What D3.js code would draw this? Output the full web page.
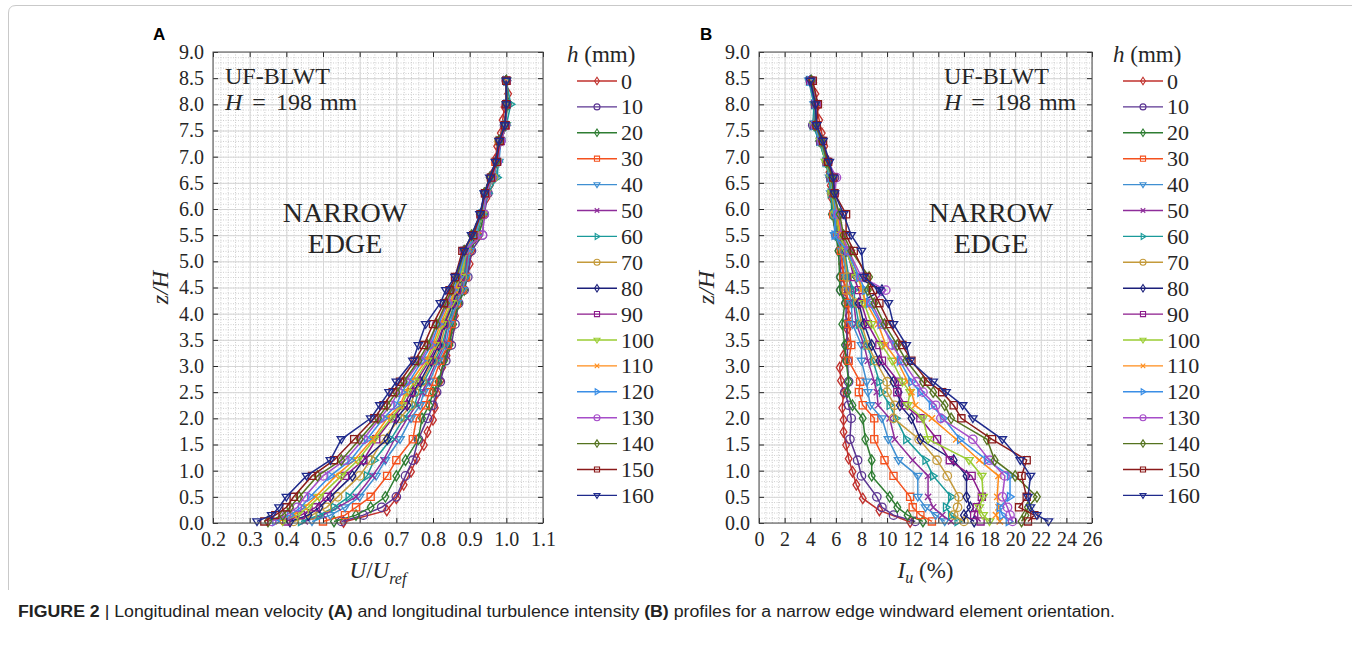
<!DOCTYPE html>
<html>
<head>
<meta charset="utf-8">
<script src="https://cdn.jsdelivr.net/npm/d3@7"></script>
<style>
  body { margin: 0; background: #fff; }
  svg { display: block; }
</style>
</head>
<body>
<div id="figure"></div>
<script>
// Roughness element heights h (mm), one profile each
var heights = [0, 10, 20, 30, 40, 50, 60, 70, 80, 90, 100, 110, 120, 130, 140, 150, 160];

var colors = ['#c0302c', '#5b3592', '#2e7d32', '#f4511e', '#3f8fd2', '#8e2d9a',
              '#1a9a9a', '#c49a3a', '#1b1f7a', '#8b1a8b', '#9acd32', '#ff8c1a',
              '#3a8ee6', '#a64dc9', '#55731f', '#8b1a1a', '#1f2a8c'];

var markers = ['diamond', 'circle', 'diamond', 'square', 'triDown', 'cross', 'triRight',
               'circle', 'diamond', 'square', 'triDown', 'cross', 'triRight',
               'circle', 'diamond', 'square', 'triDown'];

// z/H measurement levels: h = 0 profile has its own, finer set
var zLevels0 = [0.02, 0.24, 0.47, 0.73, 0.98, 1.23, 1.49, 1.74, 1.97, 2.2, 2.48, 2.72, 2.97, 3.2,
                3.45, 3.7, 3.96, 4.2, 4.45, 4.7, 4.95, 5.2, 5.45, 5.7, 5.95, 6.2, 6.45, 6.7,
                6.95, 7.2, 7.45, 7.7, 7.95, 8.2];
var zLevels = [0.03, 0.15, 0.3, 0.5, 0.9, 1.2, 1.6, 2.0, 2.25, 2.5, 2.7, 3.1, 3.4, 3.8, 4.2,
               4.45, 4.7, 5.2, 5.5, 5.9, 6.3, 6.6, 6.9, 7.3, 7.6, 8.0, 8.45];

// U/Uref, panel A
var velocity = [
  [0.556, 0.674, 0.70, 0.72, 0.74, 0.755, 0.775, 0.785, 0.80, 0.805, 0.81, 0.82, 0.825, 0.837, 0.846, 0.85, 0.86, 0.87, 0.88, 0.89, 0.90, 0.905, 0.915, 0.925, 0.935, 0.945, 0.955, 0.965, 0.97, 0.975, 0.985, 0.99, 0.995, 1.005],
  [0.55, 0.61, 0.66, 0.70, 0.725, 0.745, 0.76, 0.785, 0.80, 0.81, 0.82, 0.835, 0.85, 0.86, 0.87, 0.885, 0.895, 0.905, 0.935, 0.94, 0.95, 0.96, 0.975, 0.985, 0.995, 1.0, 1.0],
  [0.53, 0.59, 0.63, 0.67, 0.70, 0.725, 0.76, 0.77, 0.79, 0.80, 0.815, 0.83, 0.845, 0.855, 0.87, 0.885, 0.89, 0.90, 0.925, 0.94, 0.945, 0.965, 0.975, 0.98, 0.995, 1.005, 1.0],
  [0.50, 0.56, 0.59, 0.63, 0.675, 0.70, 0.745, 0.755, 0.78, 0.79, 0.80, 0.82, 0.84, 0.85, 0.865, 0.88, 0.89, 0.895, 0.92, 0.935, 0.945, 0.96, 0.97, 0.98, 0.998, 1.0, 1.0],
  [0.47, 0.52, 0.56, 0.60, 0.645, 0.67, 0.71, 0.74, 0.765, 0.775, 0.79, 0.815, 0.835, 0.845, 0.865, 0.88, 0.89, 0.90, 0.91, 0.93, 0.94, 0.97, 0.98, 0.985, 1.0, 1.0, 1.0],
  [0.45, 0.50, 0.54, 0.59, 0.635, 0.665, 0.695, 0.73, 0.755, 0.77, 0.785, 0.81, 0.83, 0.84, 0.86, 0.875, 0.885, 0.895, 0.915, 0.935, 0.945, 0.96, 0.975, 0.985, 0.997, 1.0, 1.0],
  [0.44, 0.49, 0.53, 0.57, 0.62, 0.64, 0.685, 0.72, 0.75, 0.76, 0.775, 0.805, 0.825, 0.84, 0.86, 0.87, 0.885, 0.89, 0.92, 0.935, 0.95, 0.975, 0.978, 0.98, 1.0, 1.012, 1.0],
  [0.42, 0.47, 0.51, 0.54, 0.60, 0.63, 0.665, 0.71, 0.74, 0.75, 0.77, 0.80, 0.82, 0.835, 0.855, 0.87, 0.88, 0.89, 0.915, 0.93, 0.945, 0.965, 0.975, 0.98, 0.998, 1.0, 1.0],
  [0.41, 0.46, 0.49, 0.52, 0.58, 0.61, 0.675, 0.70, 0.73, 0.745, 0.765, 0.795, 0.815, 0.83, 0.855, 0.865, 0.875, 0.885, 0.91, 0.93, 0.94, 0.955, 0.972, 0.982, 0.998, 1.0, 1.0],
  [0.40, 0.44, 0.48, 0.51, 0.56, 0.61, 0.645, 0.69, 0.72, 0.74, 0.755, 0.79, 0.81, 0.83, 0.85, 0.865, 0.875, 0.885, 0.91, 0.93, 0.942, 0.96, 0.975, 0.985, 0.997, 1.0, 1.0],
  [0.39, 0.43, 0.46, 0.49, 0.55, 0.595, 0.64, 0.685, 0.715, 0.73, 0.75, 0.785, 0.805, 0.825, 0.85, 0.86, 0.875, 0.89, 0.915, 0.935, 0.945, 0.96, 0.975, 0.983, 0.998, 1.0, 1.0],
  [0.38, 0.42, 0.45, 0.48, 0.535, 0.585, 0.635, 0.675, 0.71, 0.725, 0.74, 0.78, 0.80, 0.82, 0.845, 0.86, 0.87, 0.885, 0.91, 0.93, 0.94, 0.96, 0.975, 0.98, 0.996, 1.0, 1.0],
  [0.37, 0.41, 0.44, 0.465, 0.52, 0.575, 0.62, 0.665, 0.70, 0.715, 0.735, 0.77, 0.795, 0.815, 0.84, 0.855, 0.87, 0.89, 0.915, 0.932, 0.945, 0.962, 0.976, 0.984, 0.998, 1.0, 1.0],
  [0.36, 0.40, 0.43, 0.45, 0.50, 0.56, 0.61, 0.655, 0.685, 0.705, 0.725, 0.765, 0.79, 0.81, 0.84, 0.85, 0.865, 0.885, 0.935, 0.94, 0.945, 0.96, 0.975, 0.985, 0.998, 1.0, 1.0],
  [0.35, 0.39, 0.41, 0.435, 0.485, 0.55, 0.60, 0.65, 0.675, 0.70, 0.72, 0.76, 0.785, 0.81, 0.835, 0.85, 0.865, 0.885, 0.905, 0.93, 0.94, 0.955, 0.972, 0.98, 0.996, 1.0, 1.0],
  [0.34, 0.37, 0.40, 0.42, 0.47, 0.53, 0.585, 0.64, 0.665, 0.69, 0.71, 0.75, 0.775, 0.80, 0.83, 0.845, 0.86, 0.88, 0.91, 0.93, 0.942, 0.958, 0.974, 0.982, 0.997, 1.0, 1.0],
  [0.32, 0.36, 0.38, 0.40, 0.455, 0.52, 0.55, 0.63, 0.655, 0.68, 0.70, 0.745, 0.76, 0.78, 0.82, 0.835, 0.86, 0.885, 0.905, 0.928, 0.94, 0.955, 0.97, 0.98, 0.996, 1.0, 1.0]
];

// Iu (%), panel B
var intensity = [
  [11.8, 9.4, 8.1, 7.6, 7.3, 7.0, 6.8, 6.6, 6.6, 6.5, 6.6, 6.4, 6.3, 6.6, 6.9, 6.9, 7.0, 6.9, 6.7, 6.6, 6.5, 6.4, 6.3, 6.1, 5.9, 5.7, 5.6, 5.5, 5.3, 5.1, 4.9, 4.7, 4.5, 4.4],
  [12.2, 10.5, 9.6, 9.2, 8.0, 7.7, 7.1, 7.2, 7.0, 6.7, 7.0, 6.9, 6.9, 6.8, 6.8, 6.4, 6.4, 6.3, 6.0, 5.8, 5.7, 5.9, 5.3, 4.8, 4.2, 4.4, 4.0],
  [12.8, 11.6, 10.8, 10.2, 8.8, 8.8, 8.3, 8.1, 7.3, 6.9, 7.0, 6.8, 6.7, 6.5, 6.7, 6.3, 6.3, 6.2, 6.0, 5.7, 5.6, 5.5, 5.2, 4.7, 4.3, 4.4, 4.1],
  [13.5, 12.6, 12.0, 11.8, 10.5, 9.8, 9.0, 9.0, 8.1, 7.8, 7.9, 7.0, 7.2, 7.0, 7.0, 6.8, 6.6, 6.4, 6.1, 5.8, 5.7, 5.6, 5.3, 4.9, 4.3, 4.5, 4.0],
  [14.5, 13.8, 13.0, 12.4, 12.4, 10.9, 10.1, 9.6, 8.7, 8.5, 8.4, 8.0, 8.0, 7.3, 7.2, 7.0, 6.8, 6.5, 5.9, 5.9, 5.6, 5.5, 5.2, 4.8, 4.4, 4.3, 3.9],
  [15.0, 14.3, 13.6, 13.2, 13.2, 12.0, 10.6, 10.2, 9.3, 9.2, 9.0, 8.5, 8.2, 7.6, 7.4, 7.2, 7.0, 6.6, 6.2, 5.8, 5.7, 5.6, 5.3, 4.8, 4.3, 4.4, 4.0],
  [15.5, 15.0, 14.6, 15.0, 13.6, 13.0, 11.5, 10.7, 10.2, 9.6, 9.4, 8.9, 8.4, 7.8, 7.5, 7.4, 7.0, 6.7, 6.2, 5.8, 5.6, 5.5, 5.2, 4.7, 4.2, 4.3, 3.9],
  [16.0, 15.2, 15.5, 15.6, 14.7, 13.9, 12.5, 10.5, 10.6, 10.0, 10.0, 9.1, 8.5, 8.0, 7.7, 6.8, 6.9, 6.6, 6.3, 5.9, 5.7, 5.7, 5.3, 4.9, 4.4, 4.4, 4.1],
  [16.8, 16.0, 16.5, 16.2, 16.2, 15.2, 12.6, 11.9, 11.0, 10.9, 10.5, 9.4, 8.8, 8.2, 7.8, 9.6, 7.6, 6.8, 6.3, 6.0, 5.8, 5.8, 5.4, 4.9, 4.4, 4.5, 4.0],
  [17.3, 16.8, 17.0, 17.4, 16.6, 14.9, 13.9, 12.6, 11.4, 10.8, 10.9, 9.6, 9.4, 8.5, 8.0, 7.8, 7.4, 6.9, 6.4, 6.2, 5.8, 5.6, 5.3, 4.8, 4.3, 4.4, 4.0],
  [18.0, 17.5, 17.2, 17.5, 17.4, 16.4, 13.2, 12.8, 11.6, 11.8, 11.2, 10.4, 9.6, 8.8, 8.2, 8.2, 7.6, 6.8, 6.3, 6.0, 5.7, 5.6, 5.2, 4.8, 4.3, 4.4, 4.1],
  [18.8, 18.5, 18.7, 18.6, 18.7, 17.2, 15.4, 13.5, 12.2, 11.9, 11.6, 10.8, 9.9, 9.3, 8.4, 8.0, 7.8, 7.0, 6.4, 6.1, 5.8, 5.7, 5.3, 4.9, 4.4, 4.5, 4.0],
  [19.5, 19.0, 18.8, 19.6, 19.6, 17.8, 15.7, 14.4, 13.5, 12.6, 11.9, 11.0, 10.6, 9.5, 8.6, 8.3, 7.8, 6.9, 5.9, 6.0, 5.8, 5.6, 5.3, 4.8, 4.3, 4.4, 4.0],
  [19.8, 19.6, 19.4, 19.0, 19.2, 18.0, 16.7, 14.2, 13.8, 12.8, 12.3, 11.2, 10.4, 9.6, 8.8, 9.9, 8.0, 7.0, 6.5, 6.2, 5.9, 6.05, 5.4, 4.9, 4.4, 4.5, 4.1],
  [20.5, 20.8, 21.0, 21.7, 20.0, 18.4, 17.8, 15.0, 14.5, 13.6, 12.8, 11.5, 10.8, 9.8, 9.0, 8.5, 8.6, 7.2, 6.6, 6.3, 5.8, 5.7, 5.3, 4.9, 4.4, 4.4, 4.1],
  [21.0, 21.5, 20.3, 20.9, 20.5, 20.9, 18.2, 15.8, 15.2, 14.3, 13.2, 11.9, 11.2, 10.2, 9.4, 8.9, 8.4, 7.4, 6.8, 6.8, 5.9, 5.8, 5.4, 5.0, 4.5, 4.6, 4.2],
  [22.6, 21.7, 21.2, 21.0, 21.2, 20.4, 19.0, 16.7, 15.9, 14.6, 13.6, 11.8, 11.5, 10.5, 10.1, 9.4, 8.2, 8.0, 7.2, 6.6, 5.9, 5.8, 5.5, 5.0, 4.5, 4.4, 4.0]
];

var zTicks = [0, 0.5, 1, 1.5, 2, 2.5, 3, 3.5, 4, 4.5, 5, 5.5, 6, 6.5, 7, 7.5, 8, 8.5, 9];
var uTicks = [0.2, 0.3, 0.4, 0.5, 0.6, 0.7, 0.8, 0.9, 1.0, 1.1];
var iuTicks = [0, 2, 4, 6, 8, 10, 12, 14, 16, 18, 20, 22, 24, 26];

var width = 1352,
    height = 645,
    plotTop = 52,
    plotBottom = 523,
    serif = '"Liberation Serif", "Times New Roman", serif',
    sans = '"Liberation Sans", Arial, sans-serif',
    ink = '#262626';

var svg = d3.select('#figure').append('svg')
    .attr('width', width)
    .attr('height', height);

// light page frame
svg.append('path')
    .attr('d', 'M1352,5.5 H16 Q8.5,5.5 8.5,13 V590')
    .attr('fill', 'none')
    .attr('stroke', '#c9c9c9');

function markerPath(type, r) {
    var p = d3.path();
    if (type === 'circle') {
        p.moveTo(r, 0);
        p.arc(0, 0, r, 0, 2 * Math.PI);
    } else if (type === 'diamond') {
        p.moveTo(0, -r * 1.25); p.lineTo(r * 0.8, 0); p.lineTo(0, r * 1.25); p.lineTo(-r * 0.8, 0); p.closePath();
    } else if (type === 'square') {
        p.rect(-r * 0.85, -r * 0.85, r * 1.7, r * 1.7);
    } else if (type === 'triDown') {
        p.moveTo(-r, -r * 0.6); p.lineTo(r, -r * 0.6); p.lineTo(0, r); p.closePath();
    } else if (type === 'triRight') {
        p.moveTo(-r * 0.6, -r); p.lineTo(r, 0); p.lineTo(-r * 0.6, r); p.closePath();
    } else {
        var c = r * 0.75;
        p.moveTo(-c, -c); p.lineTo(c, c); p.moveTo(c, -c); p.lineTo(-c, c);
    }
    return p.toString();
}

function drawPanel(cfg) {
    var x = d3.scaleLinear().domain(cfg.xDomain).range([cfg.left, cfg.right]),
        y = d3.scaleLinear().domain([0, 9]).range([plotBottom, plotTop]),
        innerW = cfg.right - cfg.left,
        innerH = plotBottom - plotTop,
        g = svg.append('g');

    // minor grid
    g.append('g').attr('transform', 'translate(0,' + plotBottom + ')')
        .call(d3.axisBottom(x).tickValues(cfg.minorX).tickSize(-innerH).tickFormat(''))
        .call(function(a) { a.select('.domain').remove(); })
        .selectAll('line').attr('stroke', '#cfcfcf').attr('stroke-dasharray', '1,1.5');
    g.append('g').attr('transform', 'translate(' + cfg.left + ',0)')
        .call(d3.axisLeft(y).tickValues(d3.range(0, 9.001, 0.1)).tickSize(-innerW).tickFormat(''))
        .call(function(a) { a.select('.domain').remove(); })
        .selectAll('line').attr('stroke', '#cfcfcf').attr('stroke-dasharray', '1,1.5');

    // major grid
    g.append('g').attr('transform', 'translate(0,' + plotBottom + ')')
        .call(d3.axisBottom(x).tickValues(cfg.ticks).tickSize(-innerH).tickFormat(''))
        .call(function(a) { a.select('.domain').remove(); })
        .selectAll('line').attr('stroke', '#d6d6d6');
    g.append('g').attr('transform', 'translate(' + cfg.left + ',0)')
        .call(d3.axisLeft(y).tickValues(zTicks).tickSize(-innerW).tickFormat(''))
        .call(function(a) { a.select('.domain').remove(); })
        .selectAll('line').attr('stroke', '#d6d6d6');

    // profiles
    var line = d3.line()
        .x(function(d) { return x(d[0]); })
        .y(function(d) { return y(d[1]); });

    cfg.values.forEach(function(vals, i) {
        var zs = i === 0 ? zLevels0 : zLevels,
            pts = vals.map(function(v, k) { return [v, zs[k]]; }),
            s = g.append('g');
        s.append('path')
            .datum(pts)
            .attr('d', line)
            .attr('fill', 'none')
            .attr('stroke', colors[i])
            .attr('stroke-width', 1.5);
        s.selectAll('path.mk').data(pts).enter()
            .append('path')
            .attr('class', 'mk')
            .attr('transform', function(d) { return 'translate(' + x(d[0]) + ',' + y(d[1]) + ')'; })
            .attr('d', markerPath(markers[i], 4.2))
            .attr('fill', 'none')
            .attr('stroke', colors[i])
            .attr('stroke-width', 1.3);
    });

    // axes with inward ticks on all sides
    var axes = [
        [d3.axisBottom(x).tickValues(cfg.ticks).tickFormat(cfg.fmt), 'translate(0,' + plotBottom + ')'],
        [d3.axisTop(x).tickValues(cfg.ticks).tickFormat(''), 'translate(0,' + plotTop + ')'],
        [d3.axisLeft(y).tickValues(zTicks).tickFormat(d3.format('.1f')), 'translate(' + cfg.left + ',0)'],
        [d3.axisRight(y).tickValues(zTicks).tickFormat(''), 'translate(' + cfg.right + ',0)']
    ];
    axes.forEach(function(a) {
        g.append('g').attr('transform', a[1])
            .call(a[0].tickSizeInner(-5).tickSizeOuter(0).tickPadding(9))
            .call(function(ax) {
                ax.select('.domain').remove();
                ax.selectAll('line').attr('stroke', ink);
                ax.selectAll('text')
                    .attr('fill', ink)
                    .style('font-family', serif)
                    .style('font-size', '20px');
            });
    });

    g.append('rect')
        .attr('x', cfg.left).attr('y', plotTop)
        .attr('width', innerW).attr('height', innerH)
        .attr('fill', 'none').attr('stroke', '#4d4d4d');

    // axis titles
    var xt = g.append('text')
        .attr('x', (cfg.left + cfg.right) / 2).attr('y', 578)
        .attr('text-anchor', 'middle')
        .style('font-family', serif).style('font-size', '23px').attr('fill', ink);
    cfg.xTitle(xt);

    g.append('text')
        .attr('transform', 'translate(' + (cfg.left - 45) + ',' + ((plotTop + plotBottom) / 2) + ') rotate(-90)')
        .attr('text-anchor', 'middle')
        .style('font-family', serif).style('font-size', '24px').style('font-style', 'italic')
        .attr('fill', ink)
        .text('z/H');

    // annotations
    g.append('text')
        .attr('x', cfg.noteX).attr('y', 84)
        .style('font-family', serif).style('font-size', '24px').attr('fill', ink)
        .text('UF-BLWT');
    var hn = g.append('text')
        .attr('x', cfg.noteX).attr('y', 110)
        .style('font-family', serif).style('font-size', '24px').attr('fill', ink);
    hn.append('tspan').style('font-style', 'italic').text('H');
    hn.append('tspan').attr('dx', 10).text('=');
    hn.append('tspan').attr('dx', 10).text('198');
    hn.append('tspan').attr('dx', 8).text('mm');

    ['NARROW', 'EDGE'].forEach(function(t, k) {
        g.append('text')
            .attr('x', cfg.edgeX).attr('y', 222 + k * 31)
            .attr('text-anchor', 'middle')
            .style('font-family', serif).style('font-size', '28px').attr('fill', ink)
            .text(t);
    });

    // panel letter
    svg.append('text')
        .attr('x', cfg.letterX).attr('y', 40)
        .style('font-family', sans).style('font-size', '17px').style('font-weight', 'bold')
        .text(cfg.letter);

    // legend
    var lg = svg.append('g');
    var tt = lg.append('text')
        .attr('x', cfg.legendX - 10).attr('y', 62)
        .style('font-family', serif).style('font-size', '23px').attr('fill', ink);
    tt.append('tspan').style('font-style', 'italic').text('h');
    tt.append('tspan').text(' (mm)');

    heights.forEach(function(h, i) {
        var ly = 81 + i * 25.9,
            e = lg.append('g').attr('transform', 'translate(' + cfg.legendX + ',' + ly + ')');
        e.append('line')
            .attr('x1', 0).attr('x2', 40)
            .attr('stroke', colors[i]).attr('stroke-width', 1.4);
        e.append('path')
            .attr('transform', 'translate(20,0)')
            .attr('d', markerPath(markers[i], 3))
            .attr('fill', 'none').attr('stroke', colors[i]).attr('stroke-width', 1.1);
        e.append('text')
            .attr('x', 44).attr('y', 7.5)
            .style('font-family', serif).style('font-size', '22px').attr('fill', ink)
            .text(h);
    });
}

drawPanel({
    letter: 'A', letterX: 153,
    left: 213, right: 543,
    xDomain: [0.2, 1.1], ticks: uTicks, minorX: d3.range(0.2, 1.1001, 0.02),
    fmt: d3.format('.1f'),
    values: velocity,
    noteX: 225, edgeX: 345,
    legendX: 577,
    xTitle: function(t) {
        t.append('tspan').style('font-style', 'italic').text('U');
        t.append('tspan').text('/');
        t.append('tspan').style('font-style', 'italic').text('U');
        t.append('tspan').attr('dy', 6).style('font-size', '16px').style('font-style', 'italic').text('ref');
    }
});

drawPanel({
    letter: 'B', letterX: 700,
    left: 759, right: 1092,
    xDomain: [0, 26], ticks: iuTicks, minorX: d3.range(0, 26.001, 0.5),
    fmt: d3.format('d'),
    values: intensity,
    noteX: 944, edgeX: 991,
    legendX: 1123,
    xTitle: function(t) {
        t.append('tspan').style('font-style', 'italic').text('I');
        t.append('tspan').attr('dy', 5).style('font-size', '16px').style('font-style', 'italic').text('u');
        t.append('tspan').attr('dy', -5).text(' (%)');
    }
});

// caption
var cap = svg.append('text')
    .attr('x', 18).attr('y', 617)
    .attr('textLength', 1097).attr('lengthAdjust', 'spacingAndGlyphs')
    .style('font-family', '"Liberation Sans Narrow", "Liberation Sans", Arial, sans-serif')
    .style('font-size', '16px').attr('fill', '#222');
cap.append('tspan').style('font-weight', 'bold').text('FIGURE 2');
cap.append('tspan').text(' | Longitudinal mean velocity ');
cap.append('tspan').style('font-weight', 'bold').text('(A)');
cap.append('tspan').text(' and longitudinal turbulence intensity ');
cap.append('tspan').style('font-weight', 'bold').text('(B)');
cap.append('tspan').text(' profiles for a narrow edge windward element orientation.');
</script>
</body>
</html>
